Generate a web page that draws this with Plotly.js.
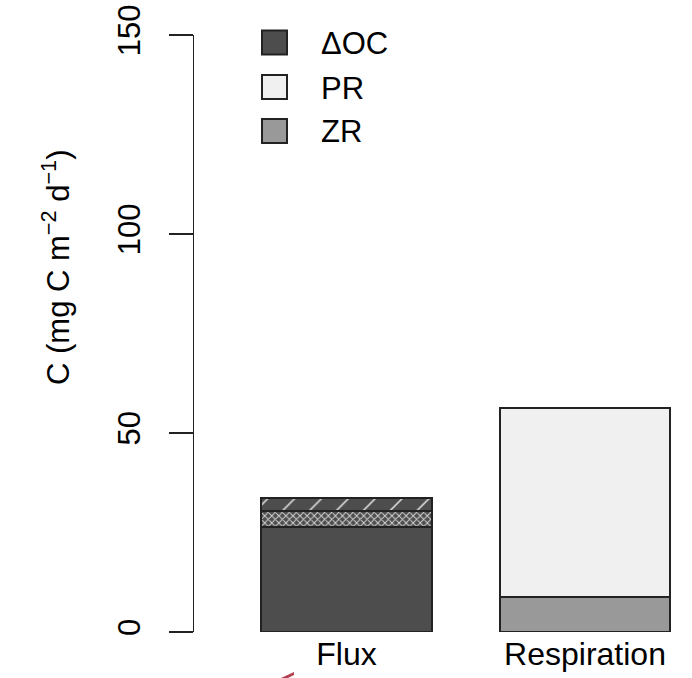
<!DOCTYPE html>
<html>
<head>
<meta charset="utf-8">
<script src="https://cdn.plot.ly/plotly-3.0.1.min.js"></script>
<style>html,body{margin:0;padding:0;background:#fff;}#chart{width:692px;height:678px;}</style>
</head>
<body>
<div id="chart"></div>
<script>
// ---- data ----
const categories = ['Flux', 'Respiration'];
const catPos = [0, 1];
const deltaOC = [26.4, 0];
const deltaOCHatchA = [4.0, 0];
const deltaOCHatchB = [3.3, 0];
const ZR = [0, 8.8];
const PR = [0, 47.5];
const legendNames = ['\u0394OC', 'PR', 'ZR'];
const legendColors = ['#4d4d4d', '#f0f0f0', '#999999'];
const yTicks = [0, 50, 100, 150];
const yTitle = 'C (mg C m<sup>\u22122</sup> d<sup>\u22121</sup>)';

// ---- layout geometry (pixels) ----
const W = 692, H = 678;
const L = 194, R = 10, T = 35, B = 46;
const PW = W - L - R, PH = H - T - B;
const px = x => (x - L) / PW;
const py = y => (H - B - y) / PH;

const FONT = 'Liberation Sans, Arial, sans-serif';
const edge = {color: '#222', width: 2};
const barW = 0.715;

const traces = [
  {type: 'bar', x: catPos, y: deltaOC, width: barW, name: legendNames[0], showlegend: false,
   marker: {color: legendColors[0], line: edge}},
  {type: 'bar', x: catPos, y: deltaOCHatchA, width: barW, name: legendNames[0] + ' (a)', showlegend: false,
   marker: {color: '#4d4d4d', line: edge,
            pattern: {shape: 'x', size: 5, solidity: 0.35, fgcolor: '#d4d4d4', bgcolor: '#4d4d4d', fillmode: 'replace'}}},
  {type: 'bar', x: catPos, y: deltaOCHatchB, width: barW, name: legendNames[0] + ' (b)', showlegend: false,
   marker: {color: '#4d4d4d', line: edge,
            pattern: {shape: '/', size: 19, solidity: 0.08, fgcolor: '#e6e6e6', bgcolor: '#4d4d4d', fillmode: 'replace'}}},
  {type: 'bar', x: catPos, y: ZR, width: barW, name: legendNames[2], showlegend: false,
   marker: {color: legendColors[2], line: edge}},
  {type: 'bar', x: catPos, y: PR, width: barW, name: legendNames[1], showlegend: false,
   marker: {color: legendColors[1], line: edge}}
];

// legend drawn as shapes + annotations
const shapes = [];
const annotations = [];
const rowCenters = [42.5, 87, 131];
legendNames.forEach((n, i) => {
  const c = rowCenters[i];
  shapes.push({type: 'rect', xref: 'paper', yref: 'paper',
    x0: px(262), x1: px(287), y0: py(c + 12), y1: py(c - 12),
    fillcolor: legendColors[i], line: {color: '#222', width: 2}});
  annotations.push({xref: 'paper', yref: 'paper', x: px(319), y: py(c + 1),
    xanchor: 'left', yanchor: 'middle', showarrow: false, text: n,
    font: {family: FONT, size: 31, color: '#000'}});
});
// y-axis title placed like the reference
annotations.push({xref: 'paper', yref: 'paper', x: px(56), y: py(268),
  xanchor: 'center', yanchor: 'middle', textangle: -90, showarrow: false, text: yTitle,
  font: {family: FONT, size: 31, color: '#000'}});
// small red mark at the bottom edge
shapes.push({type: 'path', xref: 'paper', yref: 'paper',
  path: `M ${px(281)} ${py(678)} L ${px(294)} ${py(672)} L ${px(294)} ${py(675)} L ${px(288)} ${py(678)} Z`,
  fillcolor: '#b34050', line: {width: 0}});

const layout = {
  width: W, height: H,
  margin: {l: L, r: R, t: T, b: B, pad: 0},
  paper_bgcolor: '#fff', plot_bgcolor: '#fff',
  barmode: 'stack',
  showlegend: false,
  font: {family: FONT, color: '#000', size: 31},
  xaxis: {range: [-(346.5 - L) / 238.5, 1 + (W - R - 585) / 238.5],
          tickvals: catPos, ticktext: categories, ticks: '', showline: false,
          showgrid: false, zeroline: false, tickfont: {size: 32}, fixedrange: true},
  yaxis: {range: [0, 150], tickvals: yTicks, ticks: 'outside', ticklen: 24, tickwidth: 1.5,
          tickcolor: '#222', showline: true, linecolor: '#222', linewidth: 1.5,
          showgrid: false, zeroline: false, tickangle: -90, tickfont: {size: 31},
          ticklabelstandoff: 16},
  shapes: shapes,
  annotations: annotations
};

Plotly.newPlot('chart', traces, layout, {displayModeBar: false, staticPlot: true});
</script>
</body>
</html>
